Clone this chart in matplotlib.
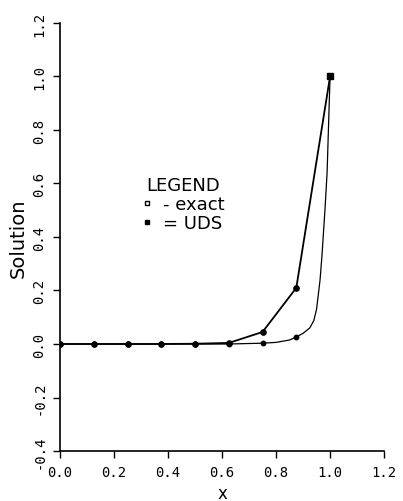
import numpy as np
import matplotlib
matplotlib.use("Agg")
import matplotlib.pyplot as plt
from matplotlib.lines import Line2D

# UDS solution on the 8-cell grid
grid_x = [0.0, 0.125, 0.25, 0.375, 0.5, 0.625, 0.75, 0.875, 1.0]
uds_y = [0.0, 0.0, 0.0, 0.0, 0.001, 0.004, 0.045, 0.21, 1.0]

# exact solution
exact_x = [0.0, 0.125, 0.25, 0.375, 0.5, 0.625, 0.75, 0.8, 0.85, 0.875,
           0.9, 0.925, 0.94, 0.95, 0.963, 0.97, 0.981, 0.989, 1.0]
exact_y = [0.0, 0.0, 0.0, 0.0, 0.0, 0.0, 0.003, 0.006, 0.015, 0.026,
           0.04, 0.06, 0.088, 0.13, 0.24, 0.33, 0.5, 0.64, 1.0]
exact_marks = [0, 1, 2, 3, 4, 5, 6, 9, 18]

xticks = [0.0, 0.2, 0.4, 0.6, 0.8, 1.0, 1.2]
yticks = [-0.4, -0.2, 0.0, 0.2, 0.4, 0.6, 0.8, 1.0, 1.2]

mono = "DejaVu Sans Mono"

fig = plt.figure(figsize=(4.03, 5.02), dpi=100)
ax = fig.add_axes([0.149, 0.0996, 0.804, 0.8526])

ax.plot(exact_x, exact_y, color="black", lw=0.9, marker="o", ms=3.2,
        mfc="black", mec="black", markevery=exact_marks, zorder=3)
ax.plot(grid_x[:-1], uds_y[:-1], color="black", lw=1.3, marker="o", ms=3.8,
        mfc="black", mec="black", zorder=4)
ax.plot(grid_x[-2:], uds_y[-2:], color="black", lw=1.3, zorder=4)
ax.plot(grid_x[-1:], uds_y[-1:], ls="none", marker="s", ms=4, color="black", zorder=5)

ax.set_xlim(0, 1.2)
ax.set_ylim(-0.4, 1.2)
ax.set_xticks(xticks)
ax.set_yticks(yticks)
ax.set_xticklabels([f"{v:.1f}" for v in xticks], family=mono, fontsize=10)
ax.set_yticklabels([f"{v:.1f}" for v in yticks], family=mono, fontsize=10,
                   rotation=90, va="center")
ax.tick_params(direction="out", length=5, width=1, pad=5, color="black")

for side in ["top", "right"]:
    ax.spines[side].set_visible(False)
ax.spines["left"].set_linewidth(1.2)
ax.spines["bottom"].set_linewidth(1.2)

ax.set_xlabel("x", fontsize=12, labelpad=4)
ax.set_ylabel("Solution", fontsize=14, labelpad=3)

handles = [
    Line2D([], [], ls="none", marker="s", ms=3.5, mfc="white", mec="black", mew=1),
    Line2D([], [], ls="none", marker="s", ms=3.5, mfc="black", mec="black"),
]
leg = ax.legend(handles, ["- exact", "= UDS"], title="LEGEND", frameon=False,
                loc="upper left", bbox_to_anchor=(0.2, 0.68),
                handlelength=0.6, handletextpad=0.6, labelspacing=0.05,
                prop={"size": 13}, title_fontsize=13)

fig.savefig("out.png", dpi=100)
